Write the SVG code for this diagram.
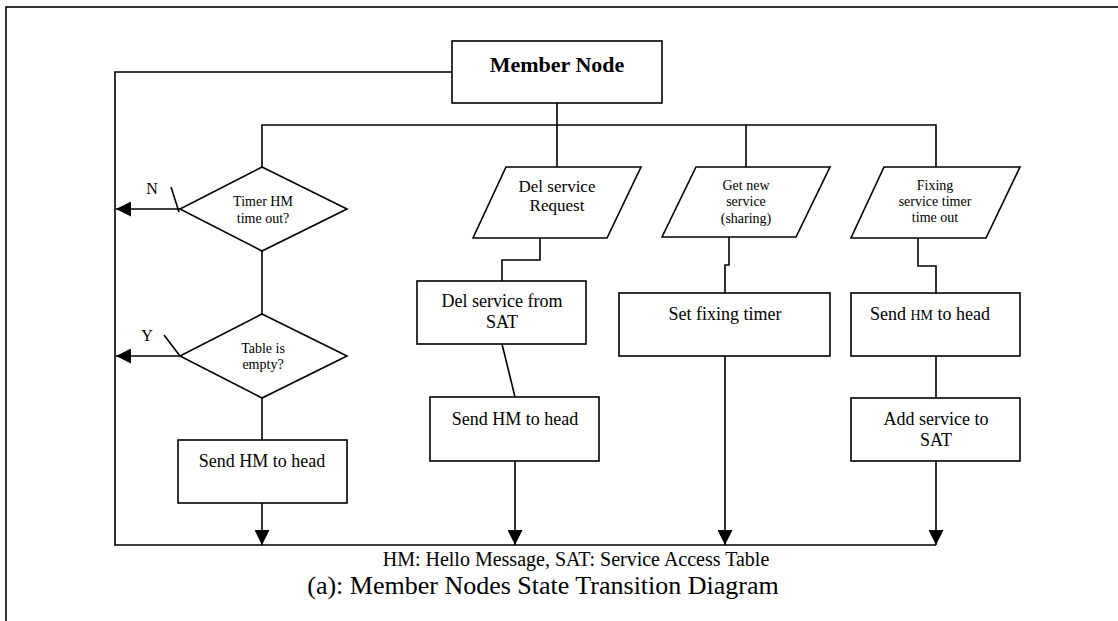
<svg xmlns="http://www.w3.org/2000/svg" width="1118" height="621" viewBox="0 0 1118 621">
<style>
.s{fill:none;stroke:#000;stroke-width:1.6}
.n{fill:#fff;stroke:#000;stroke-width:1.6}
text{font-family:"Liberation Serif","Times New Roman",serif;fill:#000;text-anchor:middle}
.t18{font-size:18px}
.t14{font-size:14px}
.t17{font-size:17px}
</style>
<defs>
<marker id="ah" viewBox="0 0 10 10" refX="10" refY="5" markerWidth="15" markerHeight="15" markerUnits="userSpaceOnUse" orient="auto">
<path d="M0,0 L10,5 L0,10 Z" fill="#000"/>
</marker>
</defs>
<rect x="6" y="7" width="1130" height="640" fill="#fff" stroke="#000" stroke-width="1.6"/>
<g id="connectors" class="s">
<polyline points="452,72 115,72 115,545 936,545"/>
<line x1="557" y1="103" x2="557" y2="167"/>
<polyline points="262,167 262,125 936,125 936,167"/>
<line x1="746" y1="125" x2="746" y2="167"/>
<line x1="180" y1="209" x2="116" y2="209" marker-end="url(#ah)"/>
<line x1="171" y1="187" x2="179" y2="212"/>
<line x1="180" y1="356" x2="116" y2="356" marker-end="url(#ah)"/>
<line x1="164" y1="335" x2="180" y2="356"/>
<line x1="262" y1="251" x2="262" y2="314"/>
<line x1="262" y1="398" x2="262" y2="440"/>
<line x1="262" y1="503" x2="262" y2="545" marker-end="url(#ah)"/>
<polyline points="540,238 540,260 502,260 502,281"/>
<line x1="502" y1="344" x2="515" y2="397"/>
<line x1="515" y1="461" x2="515" y2="545" marker-end="url(#ah)"/>
<polyline points="729,237 729,265 725,265 725,293"/>
<line x1="725" y1="356" x2="725" y2="545" marker-end="url(#ah)"/>
<polyline points="918,238 918,266 936,266 936,293"/>
<line x1="936" y1="356" x2="936" y2="398"/>
<line x1="936" y1="461" x2="936" y2="545" marker-end="url(#ah)"/>
</g>
<g id="member-node">
<rect class="n" x="452" y="41" width="210" height="62"/>
<text x="557" y="72" style="font-size:22px;font-weight:bold">Member Node</text>
</g>
<g id="timer-hm">
<polygon class="n" points="262,167 347,209 262,251 180,209"/>
<text class="t14" x="263" y="206">Timer HM</text>
<text class="t14" x="263" y="223">time out?</text>
</g>
<g id="label-n"><text x="152" y="194" style="font-size:16px">N</text></g>
<g id="table-empty">
<polygon class="n" points="262,314 347,356 262,398 180,356"/>
<text class="t14" x="263" y="353">Table is</text>
<text class="t14" x="263" y="369">empty?</text>
</g>
<g id="label-y"><text x="147" y="341" style="font-size:16px">Y</text></g>
<g id="send-hm-1">
<rect class="n" x="178" y="440" width="169" height="63"/>
<text class="t18" x="262" y="467">Send HM to head</text>
</g>
<g id="del-request">
<polygon class="n" points="506,167 641,167 607,238 473,238"/>
<text class="t17" x="557" y="192">Del service</text>
<text class="t17" x="557" y="211">Request</text>
</g>
<g id="del-from-sat">
<rect class="n" x="417" y="281" width="169" height="63"/>
<text class="t18" x="502" y="307">Del service from</text>
<text class="t18" x="502" y="328">SAT</text>
</g>
<g id="send-hm-2">
<rect class="n" x="430" y="397" width="169" height="64"/>
<text class="t18" x="515" y="425">Send HM to head</text>
</g>
<g id="get-new-service">
<polygon class="n" points="696,167 830,167 796,237 662,237"/>
<text class="t14" x="746" y="190">Get new</text>
<text class="t14" x="746" y="206">service</text>
<text class="t14" x="746" y="223">(sharing)</text>
</g>
<g id="set-fixing-timer">
<rect class="n" x="619" y="293" width="211" height="63"/>
<text class="t18" x="725" y="320">Set fixing timer</text>
</g>
<g id="fixing-timeout">
<polygon class="n" points="884,167 1020,167 986,238 851,238"/>
<text class="t14" x="935" y="190">Fixing</text>
<text class="t14" x="935" y="206">service timer</text>
<text class="t14" x="935" y="222">time out</text>
</g>
<g id="send-hm-3">
<rect class="n" x="851" y="293" width="169" height="63"/>
<text class="t18" x="930" y="320">Send <tspan style="font-size:14px">HM</tspan> to head</text>
</g>
<g id="add-service">
<rect class="n" x="851" y="398" width="169" height="63"/>
<text class="t18" x="936" y="425">Add service to</text>
<text class="t18" x="936" y="446">SAT</text>
</g>
<g id="captions">
<text x="576" y="566" style="font-size:20px">HM: Hello Message, SAT: Service Access Table</text>
<text x="543" y="594" style="font-size:26px">(a): Member Nodes State Transition Diagram</text>
</g>
</svg>
